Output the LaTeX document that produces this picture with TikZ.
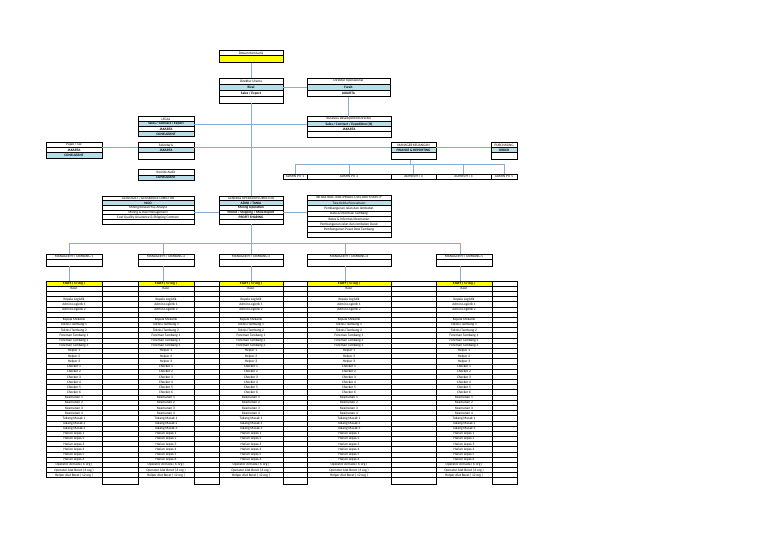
\documentclass[tikz,border=0pt]{standalone}
\usepackage{fontspec}
\setmainfont{Carlito}
\definecolor{cblue}{RGB}{183,222,232}
\definecolor{cyel}{RGB}{255,255,0}
\definecolor{lnk}{RGB}{140,172,210}
\tikzset{
  cellbox/.style={draw=black, line width=0.7pt, inner sep=0pt, outer sep=0pt,
    font=\fontsize{3.5}{3.7}\selectfont, anchor=center},
  link/.style={draw=lnk, line width=0.8pt},
}
\newcommand\cellrow[7]{\node[cellbox, fill=#6, minimum width={(#3-#2)*1pt}, minimum height={(#5-#4)*1pt}] (#1) at ({(#2+#3)/2},{(#4+#5)/2}) {#7};}
\begin{document}
\begin{tikzpicture}[x=1pt,y=-1pt]
\useasboundingbox[fill=white] (0,0) rectangle (768,543);

% ---- top
\cellrow{dk1}{219}{283}{50}{55.7}{white}{Dewan Komisaris}
\cellrow{dk2}{219}{283}{55.7}{62.7}{cyel}{}
\cellrow{du1}{219}{283}{78}{84}{white}{Direktur Utama}
\cellrow{du2}{219}{283}{84}{90}{cblue}{\textbf{Rizal}}
\cellrow{du3}{219}{283}{90}{96.5}{white}{\textbf{Sales / Export}}
\cellrow{du4}{219}{283}{96.5}{103}{white}{}
\cellrow{do1}{307}{390}{78}{84}{white}{Direktur Operasional}
\cellrow{do2}{307}{390}{84}{90}{cblue}{\textbf{Farah}}
\cellrow{do3}{307}{390}{90}{96.5}{white}{\textbf{JAKARTA}}

% ---- staff level
\cellrow{lg1}{138}{194}{116.5}{121.5}{white}{LEGAL}
\cellrow{lg2}{138}{194}{121.5}{126.5}{cblue}{\textbf{Sales / Contract / Export}}
\cellrow{lg3}{138}{194}{126.5}{131.5}{white}{\textbf{JAKARTA}}
\cellrow{lg4}{138}{194}{131.5}{136.5}{cblue}{\textbf{CONSULTANT}}

\cellrow{pj1}{46}{102}{142.5}{147.5}{white}{Pajak / Tax}
\cellrow{pj2}{46}{102}{147.5}{152.5}{white}{\textbf{JAKARTA}}
\cellrow{pj3}{46}{102}{152.5}{158}{cblue}{\textbf{CONSULTANT}}

\cellrow{sk1}{138}{194}{142.5}{147.5}{white}{Sekretaris}
\cellrow{sk2}{138}{194}{147.5}{152.5}{cblue}{\textbf{JAKARTA}}
\cellrow{sk3}{138}{194}{152.5}{159}{white}{}

\cellrow{ka1}{138}{194}{169.5}{175}{white}{Komite Audit}
\cellrow{ka2}{138}{194}{175}{180.5}{cblue}{\textbf{CONSULTANT}}

\cellrow{bd1}{307}{391}{116.5}{121.5}{white}{Business Development Director}
\cellrow{bd2}{307}{391}{121.5}{126.5}{cblue}{\textbf{Sales / Contract / Expedition (IS)}}
\cellrow{bd3}{307}{391}{126.5}{131.5}{white}{\textbf{JAKARTA}}
\cellrow{bd4}{307}{391}{131.5}{137.5}{white}{}

\cellrow{mk1}{391}{436}{142.5}{147.5}{white}{MANAGER KEUANGAN}
\cellrow{mk2}{391}{436}{147.5}{152.5}{cblue}{\textbf{FINANCE \& REPORTING}}
\cellrow{mk3}{391}{436}{152.5}{159.5}{white}{}

\cellrow{pu1}{491}{517}{142.5}{147.5}{white}{PURCHASING}
\cellrow{pu2}{491}{517}{147.5}{152.5}{cblue}{\textbf{ORDER}}
\cellrow{pu3}{491}{517}{152.5}{159.5}{white}{}

\cellrow{ap1}{283}{307}{174}{179.5}{white}{ADMIN PIT 1}
\cellrow{ap2}{307}{391}{174}{179.5}{white}{ADMIN PIT 2}
\cellrow{ap3}{391}{436}{174}{179.5}{white}{ADMIN PIT 3}
\cellrow{ap4}{436}{491}{174}{179.5}{white}{ADMIN PIT 4}
\cellrow{ap5}{491}{517}{174}{179.5}{white}{ADMIN PIT 5}

% ---- directors
\cellrow{ge1}{102}{194}{196}{200.7}{white}{GEOLOGIST / GEOSERVICE DIRECTOR}
\cellrow{ge2}{102}{194}{200.7}{205.4}{cblue}{\textbf{NICO}}
\cellrow{ge3}{102}{194}{205.4}{210.1}{white}{Mining Research \& Analyst}
\cellrow{ge4}{102}{194}{210.1}{214.8}{white}{Mining \& Risk Management}
\cellrow{ge5}{102}{194}{214.8}{219.5}{white}{Coal Quality Assurance \& Shipping Contract}
\cellrow{ge6}{102}{194}{219.5}{224.2}{white}{}

\cellrow{go1}{219}{283}{196}{200.7}{white}{GENERAL OPERATION DIRECTOR}
\cellrow{go2}{219}{283}{200.7}{205.4}{cblue}{\textbf{ADINI / TANIA}}
\cellrow{go3}{219}{283}{205.4}{210.1}{white}{\textbf{Mining Operation}}
\cellrow{go4}{219}{283}{210.1}{214.8}{white}{\textbf{Permit / Shipping / Mine Report}}
\cellrow{go5}{219}{283}{214.8}{219.5}{white}{\textbf{PROFIT SHARING}}
\cellrow{go6}{219}{283}{219.5}{224.2}{white}{}

\cellrow{in1}{307}{391}{195}{200.3}{white}{INFRASTRUCTURE/PROJECT/SECURITY/SAFETY}
\cellrow{in2}{307}{391}{200.3}{205.6}{cblue}{Tata Kelola Perusahaan}
\cellrow{in3}{307}{391}{205.6}{210.9}{white}{Pembangunan Jalan dan Jembatan}
\cellrow{in4}{307}{391}{210.9}{216.2}{white}{Data \& Informasi Tambang}
\cellrow{in5}{307}{391}{216.2}{221.5}{white}{Batas \& Informasi Keamanan}
\cellrow{in6}{307}{391}{221.5}{226.8}{white}{Pembangunan Jalan dan Jembatan Darat}
\cellrow{in7}{307}{391}{226.8}{232.1}{white}{Pembangunan Pusat Data Tambang}
\cellrow{in8}{307}{391}{232.1}{237.4}{white}{}

% ---- managers
\cellrow{m1a}{46}{102}{254}{259.5}{white}{MANAGER PIT TAMBANG 1}
\cellrow{m1b}{46}{102}{259.5}{266}{white}{}
\cellrow{m2a}{138}{194}{254}{259.5}{white}{MANAGER PIT TAMBANG 2}
\cellrow{m2b}{138}{194}{259.5}{266}{white}{}
\cellrow{m3a}{219}{283}{254}{259.5}{white}{MANAGER PIT TAMBANG 3}
\cellrow{m3b}{219}{283}{259.5}{266}{white}{}
\cellrow{m4a}{307}{391}{254}{259.5}{white}{MANAGER PIT TAMBANG 4}
\cellrow{m4b}{307}{391}{259.5}{266}{white}{}
\cellrow{m5a}{436}{492}{254}{259.5}{white}{MANAGER PIT TAMBANG 5}
\cellrow{m5b}{436}{492}{259.5}{266}{white}{}

% ---- staff tables
\foreach \t/\xa/\xb/\xc in {1/46/102/138, 2/138/194/219, 3/219/283/307, 4/307/391/436, 5/436/492/517}{
  \node[cellbox, fill=cyel, minimum width={(\xb-\xa)*1pt}, minimum height=5.18pt] (t\t-0) at ({(\xa+\xb)/2},{281+2.59}) {\textbf{STAFF ( 57 org )}};
  \node[cellbox, minimum width={(\xc-\xb)*1pt}, minimum height=5.18pt] (u\t-0) at ({(\xb+\xc)/2},{281+2.59}) {};
  \foreach \lab [count=\r] in {Kasir,{},Kepala Logistik,Admin Logistik 1,Admin Logistik 2,{},Kepala Mekanik,Teknisi Tambang 1,Teknisi Tambang 2,Foreman Tambang 1,Foreman Tambang 2,Foreman Tambang 3,Helper 1,Helper 2,Helper 3,Checker 1,Checker 2,Checker 3,Checker 4,Checker 5,Checker 6,Keamanan 1,Keamanan 2,Keamanan 3,Keamanan 4,Tukang Masak 1,Tukang Masak 2,Tukang Masak 3,Harian Lepas 1,Harian Lepas 2,Harian Lepas 3,Harian Lepas 4,Harian Lepas 5,Harian Lepas 6,Operator Armada ( 6 org ),Operator Alat Berat ( 6 org ),Helper Alat Berat ( 12 org )}{
    \node[cellbox, minimum width={(\xb-\xa)*1pt}, minimum height=5.18pt] (t\t-\r) at ({(\xa+\xb)/2},{281+(\r+0.5)*5.18}) {\lab};
    \node[cellbox, minimum width={(\xc-\xb)*1pt}, minimum height=5.18pt] (u\t-\r) at ({(\xb+\xc)/2},{281+(\r+0.5)*5.18}) {};
  }
  \node[cellbox, minimum width={(\xc-\xb)*1pt}, minimum height=6.2pt] (u\t-x) at ({(\xb+\xc)/2},{281+38*5.18+3.1}) {};
}

% ---- connectors
\draw[link] (dk2.south) -- (du1.north);
\draw[link] (du2.east) -- (do2.west);
\draw[link] (do3.south) -- (do3.south |- bd1.north);
\draw[link] (du4.south) -- (go1.north);
\draw[link] (lg2.east) -- (lg2.east -| du4.south);
\draw[link] (bd2.west) -- (bd2.west -| du4.south);
\draw[link] (pj2.north east) -- (sk2.north west);
\draw[link] (sk2.north east) -- (mk2.north west);
\draw[link] (mk2.north east) -- (pu2.north west);
\coordinate (abus) at (410,164);
\draw[link] (mk3.south -| abus) -- (abus);
\draw[link] (ap1.north) -- (ap1.north |- abus) -- (ap5.north |- abus) -- (ap5.north);
\draw[link] (ap2.north) -- (ap2.north |- abus);
\draw[link] (ap3.north) -- (ap3.north |- abus);
\draw[link] (ap4.north) -- (ap4.north |- abus);
\draw[link] (ge4.east) -- (go4.west);
\draw[link] (go4.east) -- (go4.east -| in1.west);
\coordinate (d1) at (69,243);
\coordinate (d2) at (163,243);
\coordinate (d3) at (251,243);
\coordinate (d4) at (345,243);
\coordinate (d5) at (460,243);
\draw[link] (go6.south) -- (d3);
\draw[link] (d1) -- (d5);
\foreach \i in {1,...,5}{
  \draw[link] (d\i) -- (d\i |- m\i a.north);
  \draw[link] (m\i b.south -| d\i) -- (t\i-0.north -| d\i);
}
\end{tikzpicture}
\end{document}
